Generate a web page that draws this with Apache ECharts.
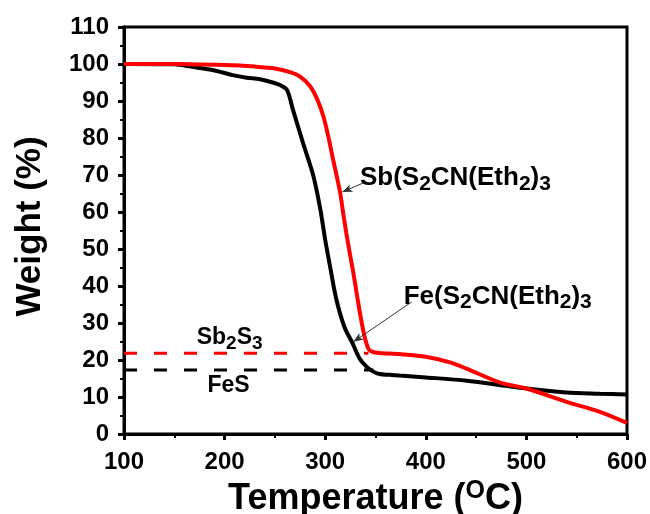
<!DOCTYPE html>
<html>

<head>
    <meta charset="utf-8">
    <title>TGA</title>
    <script src="https://cdn.jsdelivr.net/npm/echarts@6/dist/echarts.min.js"></script>
</head>

<body style="margin:0">
    <div id="main" style="width: 650px;height:514px;"></div>
    <script type="text/javascript">
    // temperature (°C) / weight (%)
    var feTemp = [100, 150, 166, 188, 208, 222, 235, 248, 255, 262, 268, 278, 288, 295, 300, 305, 311, 319, 327, 334, 340, 347, 354, 364, 374, 400, 441, 474, 500, 540, 573, 600];
    var feWeight = [100, 99.9, 99.3, 98.4, 97.0, 96.3, 95.9, 95.0, 94.3, 93.0, 87.6, 78.6, 70, 61, 52.5, 45, 36.5, 29, 24.6, 20.5, 18.5, 17, 16.2, 16.0, 15.8, 15.3, 14.4, 13.2, 12.3, 11.2, 10.9, 10.7];
    var sbTemp = [100, 150, 200, 230, 250, 265, 275, 285, 292, 298, 303, 308, 312, 315, 318, 321, 325, 328, 331, 335, 339, 343, 347, 354, 374, 400, 425, 441, 474, 500, 540, 573, 600];
    var sbWeight = [100, 100, 99.7, 99.3, 98.8, 97.8, 96.6, 94, 90.5, 86, 80.5, 74, 69, 65, 59.5, 54.3, 48, 43.5, 38.5, 32, 26.5, 23, 22.2, 21.9, 21.6, 20.9, 19.3, 17.6, 13.9, 12.3, 8.7, 6, 3];
    // residue levels
    var sb2s3Level = 21.8;
    var fesLevel = 17.3;
    var levelEnd = [343, 348];

    var font = 'Liberation Sans';
    var myChart = echarts.init(document.getElementById('main'));

    function pairs(xs, ys) {
        var out = [];
        for (var i = 0; i < xs.length; i++) {
            out.push([xs[i], ys[i]]);
        }
        return out;
    }

    var richLabel = {
        m: { fontFamily: font, fontWeight: 'bold', fontSize: 26, color: '#000' },
        s: { fontFamily: font, fontWeight: 'bold', fontSize: 21, color: '#000', padding: [12, 0, 0, 0] }
    };
    var richSmall = {
        m: { fontFamily: font, fontWeight: 'bold', fontSize: 23, color: '#000' },
        s: { fontFamily: font, fontWeight: 'bold', fontSize: 19, color: '#000', padding: [11, 0, 0, 0] }
    };

    var option = {
        animation: false,
        grid: {
            left: 124,
            right: 23,
            top: 27,
            bottom: 80,
            outerBoundsMode: 'none',
            show: true,
            borderColor: '#000',
            borderWidth: 3
        },
        xAxis: {
            type: 'value',
            min: 100,
            max: 600,
            interval: 100,
            name: '{t|Temperature (}{o|O}{t|C)}',
            nameLocation: 'middle',
            nameGap: 42,
            nameTextStyle: {
                rich: {
                    t: { fontFamily: font, fontWeight: 'bold', fontSize: 36, color: '#000' },
                    o: { fontFamily: font, fontWeight: 'bold', fontSize: 25, color: '#000', padding: [0, 0, 15, 0] }
                }
            },
            axisLine: { lineStyle: { color: '#000', width: 3 } },
            axisTick: { length: 6, lineStyle: { width: 3 } },
            minorTick: { show: true, splitNumber: 2, length: 4, lineStyle: { color: '#000', width: 2 } },
            axisLabel: { margin: 16, color: '#000', fontFamily: font, fontWeight: 'bold', fontSize: 24 },
            splitLine: { show: false }
        },
        yAxis: {
            type: 'value',
            min: 0,
            max: 110,
            interval: 10,
            name: 'Weight (%)',
            nameLocation: 'middle',
            nameGap: 76,
            nameTextStyle: { fontFamily: font, fontWeight: 'bold', fontSize: 35, color: '#000', padding: [0, 0, 0, 8] },
            axisLine: { lineStyle: { color: '#000', width: 3 } },
            axisTick: { length: 6, lineStyle: { width: 3 } },
            minorTick: { show: true, splitNumber: 2, length: 4, lineStyle: { color: '#000', width: 2 } },
            axisLabel: { margin: 15, color: '#000', fontFamily: font, fontWeight: 'bold', fontSize: 24 },
            splitLine: { show: false }
        },
        series: [{
            name: 'Sb2S3 level',
            type: 'line',
            showSymbol: false,
            data: [[100, sb2s3Level], [levelEnd[0], sb2s3Level]],
            lineStyle: { color: '#ff0000', width: 3, type: [13, 17] },
            z: 1,
            markPoint: {
                symbol: 'circle',
                symbolSize: 0,
                label: { show: true, position: 'inside', formatter: '{m|Sb}{s|2}{m|S}{s|3}', rich: richSmall },
                data: [{ coord: [205, 26] }]
            }
        }, {
            name: 'FeS level',
            type: 'line',
            showSymbol: false,
            data: [[100, fesLevel], [levelEnd[1], fesLevel]],
            lineStyle: { color: '#000', width: 3, type: [13, 17] },
            z: 1,
            markPoint: {
                symbol: 'circle',
                symbolSize: 0,
                label: { show: true, position: 'inside', formatter: '{m|FeS}', rich: richSmall },
                data: [{ coord: [204, 13.1] }]
            }
        }, {
            name: 'Fe(S2CN(Eth2)3',
            type: 'line',
            showSymbol: false,
            smooth: 0.3,
            data: pairs(feTemp, feWeight),
            lineStyle: { color: '#000', width: 4 },
            z: 3,
            markLine: {
                silent: true,
                symbol: ['none', 'arrow'],
                symbolSize: [6, 10],
                label: { show: false },
                lineStyle: { color: '#333', width: 1, type: 'solid' },
                data: [[{ coord: [386, 35.7] }, { coord: [328, 24.9] }]]
            },
            markPoint: {
                symbol: 'circle',
                symbolSize: 0,
                label: {
                    show: true, position: 'right', distance: 0,
                    formatter: '{m|Fe(S}{s|2}{m|CN(Eth}{s|2}{m|)}{s|3}', rich: richLabel
                },
                data: [{ coord: [378, 37.2] }]
            }
        }, {
            name: 'Sb(S2CN(Eth2)3',
            type: 'line',
            showSymbol: false,
            smooth: 0.3,
            data: pairs(sbTemp, sbWeight),
            lineStyle: { color: '#ff0000', width: 4 },
            z: 4,
            markLine: {
                silent: true,
                symbol: ['none', 'arrow'],
                symbolSize: [6, 10],
                label: { show: false },
                lineStyle: { color: '#333', width: 1, type: 'solid' },
                data: [[{ coord: [340, 68.1] }, { coord: [317, 65.4] }]]
            },
            markPoint: {
                symbol: 'circle',
                symbolSize: 0,
                label: {
                    show: true, position: 'right', distance: 0,
                    formatter: '{m|Sb(S}{s|2}{m|CN(Eth}{s|2}{m|)}{s|3}', rich: richLabel
                },
                data: [{ coord: [334.5, 69.2] }]
            }
        }]
    };
    myChart.setOption(option);
    </script>
</body>

</html>
